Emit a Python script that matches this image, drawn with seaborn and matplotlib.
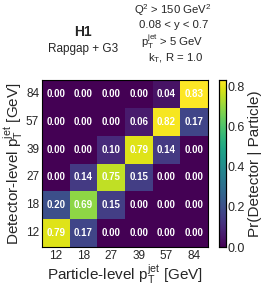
import numpy as np
import pandas as pd
import matplotlib
matplotlib.use("Agg")
import matplotlib.pyplot as plt
from matplotlib.ticker import MultipleLocator
import seaborn as sns

particle_bins = ["12", "18", "27", "39", "57", "84"]
detector_bins = ["84", "57", "39", "27", "18", "12"]  # top to bottom
matrix = [
    [0.00, 0.00, 0.00, 0.00, 0.04, 0.83],
    [0.00, 0.00, 0.00, 0.06, 0.82, 0.17],
    [0.00, 0.00, 0.10, 0.79, 0.14, 0.00],
    [0.00, 0.14, 0.75, 0.15, 0.00, 0.00],
    [0.20, 0.69, 0.15, 0.00, 0.00, 0.00],
    [0.79, 0.17, 0.00, 0.00, 0.00, 0.00],
]
cbar_ticks = [0.0, 0.2, 0.4, 0.6, 0.8]

sns.set_style("ticks")
plt.rcParams["font.family"] = ["Liberation Sans", "DejaVu Sans"]
plt.rcParams["mathtext.fontset"] = "custom"
plt.rcParams["mathtext.rm"] = "Liberation Sans"
plt.rcParams["mathtext.it"] = "Liberation Sans"
plt.rcParams["mathtext.bf"] = "Liberation Sans:bold"

df = pd.DataFrame(matrix, index=detector_bins, columns=particle_bins)

fig = plt.figure(figsize=(2.7, 2.91), dpi=100)
ax = fig.add_axes([42/270, 1-247/291, 166/270, 167/291])
cax = fig.add_axes([219/270, 1-247/291, 7/270, 167/291])

sns.heatmap(df, ax=ax, cbar_ax=cax, cmap="viridis", vmin=0, vmax=0.83,
            annot=True, fmt=".2f",
            annot_kws={"color": "white", "fontsize": 7, "fontweight": "bold"})

for s in ax.spines.values():
    s.set_visible(True)
    s.set_linewidth(0.8)
    s.set_color("black")
ax.tick_params(axis="both", which="major", direction="in", length=4,
               top=True, right=True, labelsize=8.5, width=0.6, pad=2, color="black")
ax.tick_params(axis="both", which="minor", direction="in", length=2,
               top=True, right=True, width=0.5, color="black")
ax.xaxis.set_minor_locator(MultipleLocator(0.2))
ax.yaxis.set_minor_locator(MultipleLocator(0.2))
ax.set_yticklabels(detector_bins, rotation=0)
ax.set_xticklabels(particle_bins, rotation=0)
ax.set_xlabel(r"Particle-level p$_\mathrm{T}^\mathrm{jet}$ [GeV]", fontsize=11, labelpad=1)
ax.set_ylabel(r"Detector-level p$_\mathrm{T}^\mathrm{jet}$ [GeV]", fontsize=11, labelpad=1)

cax.set_yticks(cbar_ticks)
cax.set_yticklabels([f"{t:.1f}" for t in cbar_ticks])
cax.yaxis.set_minor_locator(MultipleLocator(0.04))
cax.tick_params(axis="y", which="major", direction="in", length=4, labelsize=9,
                left=True, right=True, pad=1, width=0.6, color="black")
cax.tick_params(axis="y", which="minor", direction="in", length=2,
                left=True, right=True, width=0.5, color="black")
for s in cax.spines.values():
    s.set_visible(True)
    s.set_linewidth(0.8)
    s.set_color("black")
cax.set_ylabel("Pr(Detector | Particle)", fontsize=11, labelpad=2)

fig.text(83/270, 1-32/291, "H1", fontsize=10, fontweight="bold", ha="center", va="center")
fig.text(83/270, 1-49/291, "Rapgap + G3", fontsize=8.5, ha="center", va="center")
fig.text(173/270, 1-10/291, r"Q$^2$ > 150 GeV$^2$", fontsize=8.2, ha="center", va="center")
fig.text(174/270, 1-24.5/291, "0.08 < y < 0.7", fontsize=8.2, ha="center", va="center")
fig.text(172/270, 1-42/291, r"p$_\mathrm{T}^\mathrm{jet}$ > 5 GeV", fontsize=8.2, ha="center", va="center")
fig.text(176/270, 1-58/291, r"k$_\mathrm{T}$, R = 1.0", fontsize=8.2, ha="center", va="center")

fig.savefig("out.png", dpi=100)
